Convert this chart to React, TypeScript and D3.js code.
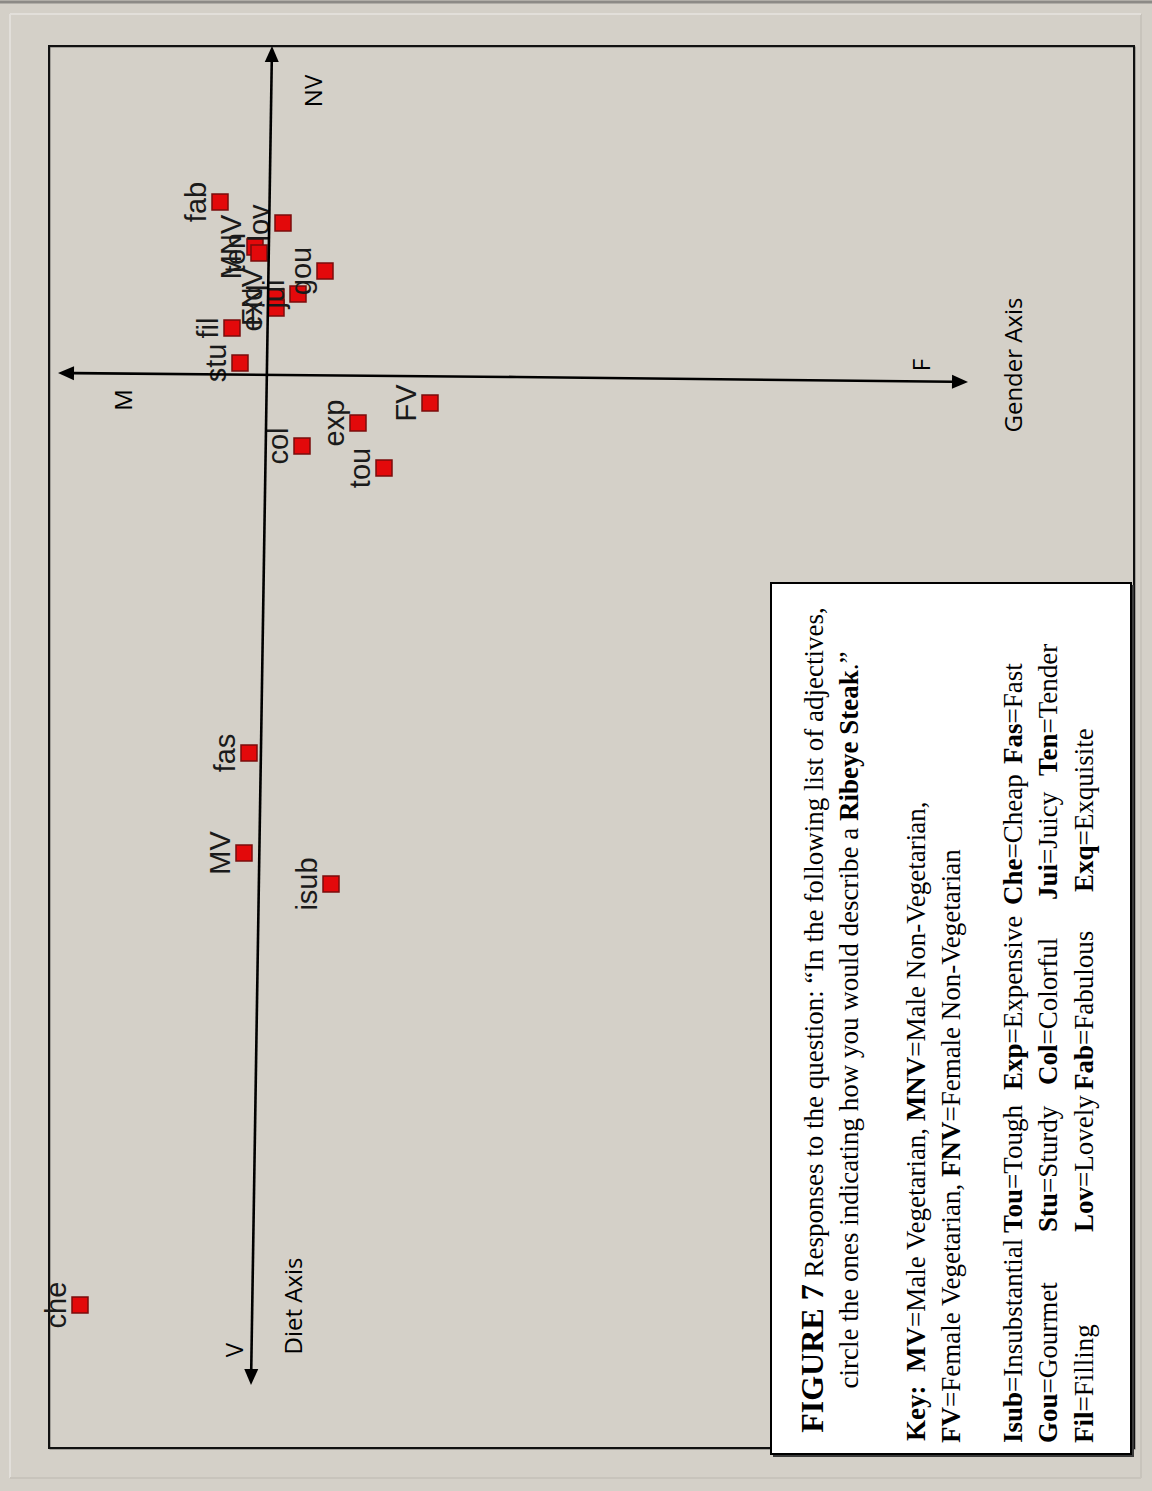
import React from 'react';
import * as d3 from 'd3';

// ---- data (Dim 1 = Diet axis: + NV / - V ; Dim 2 = Gender axis: - M / + F) ----
const pointNames = ['fab', 'lov', 'MNV', 'ten', 'gou', 'jui', 'FNV', 'exq', 'fil', 'stu', 'col', 'exp', 'tou', 'FV', 'fas', 'MV', 'isub', 'che'];
const dietScores = [1.73, 1.52, 1.28, 1.22, 1.04, 0.81, 0.78, 0.67, 0.47, 0.12, -0.71, -0.48, -0.93, -0.28, -3.78, -4.78, -5.09, -9.30];
const genderScores = [-0.47, 0.16, -0.12, -0.08, 0.58, 0.31, 0.09, 0.09, -0.35, -0.27, 0.35, 0.91, 1.17, 1.63, -0.18, -0.23, 0.64, -1.87];

const dietDomain = [-10.73, 3.29];
const genderDomain = [-2.18, 8.67];

// annotation arrows (from -> to), in data units [diet, gender]
const dietArrowNV = [[-5.0, -0.08], [3.29, 0.05]];
const dietArrowV = [[-5.0, -0.08], [-10.1, -0.16]];
const genderArrowM = [[-0.02, 2.5], [0.02, -2.09]];
const genderArrowF = [[-0.02, 2.5], [-0.07, 7.01]];

const axisLabels = [
  { text: 'NV', diet: 2.84, gender: 0.55 },
  { text: 'V', diet: -9.75, gender: -0.24 },
  { text: 'Diet Axis', diet: -9.31, gender: 0.35 },
  { text: 'M', diet: -0.25, gender: -1.35 },
  { text: 'F', diet: 0.10, gender: 6.63 },
  { text: 'Gender Axis', diet: 0.10, gender: 7.55 },
];

const titleBold = 'FIGURE 7';
const titleRest = ' Responses to the question: \u201CIn the following list of adjectives,';
const title2a = 'circle the ones indicating how you would describe a ';
const title2b = 'Ribeye Steak';
const title2c = '.\u201D';
const keyLine1: [string, boolean][] = [['Key:', true], ['  ', false], ['MV', true], ['=Male Vegetarian, ', false], ['MNV', true], ['=Male Non-Vegetarian,', false]];
const keyLine2: [string, boolean][] = [['FV', true], ['=Female Vegetarian, ', false], ['FNV', true], ['=Female Non-Vegetarian', false]];
const abbrRows: [string, string][][] = [
  [['Isub', 'Insubstantial'], ['Tou', 'Tough'], ['Exp', 'Expensive'], ['Che', 'Cheap'], ['Fas', 'Fast']],
  [['Gou', 'Gourmet'], ['Stu', 'Sturdy'], ['Col', 'Colorful'], ['Jui', 'Juicy'], ['Ten', 'Tender']],
  [['Fil', 'Filling'], ['Lov', 'Lovely'], ['Fab', 'Fabulous'], ['Exq', 'Exquisite']],
];

export default function App() {
  const W = 1152, H = 1491;
  const frame = { x0: 49, y0: 46, x1: 1134, y1: 1448 };
  // diet axis runs up the page, gender axis runs across
  const py = d3.scaleLinear().domain(dietDomain).range([frame.y1, frame.y0]);
  const px = d3.scaleLinear().domain(genderDomain).range([frame.x0, frame.x1]);

  const arrow = (seg: number[][], key: string) => {
    const [a, b] = seg;
    const x1 = px(a[1]), y1 = py(a[0]), x2 = px(b[1]), y2 = py(b[0]);
    const ang = Math.atan2(y2 - y1, x2 - x1);
    const L = 16, hw = 7;
    const bx = x2 - L * Math.cos(ang), by = y2 - L * Math.sin(ang);
    const nx = -Math.sin(ang), ny = Math.cos(ang);
    const pts = [[x2, y2], [bx + hw * nx, by + hw * ny], [bx - hw * nx, by - hw * ny]];
    return (
      <g key={key}>
        <line x1={x1} y1={y1} x2={bx} y2={by} stroke="#000" strokeWidth={2.6} />
        <polygon points={pts.map(p => p.join(',')).join(' ')} fill="#000" />
      </g>
    );
  };

  const rot = (x: number, y: number) => `translate(${x},${y}) rotate(-90)`;
  const serif = '"Liberation Serif", "Times New Roman", serif';
  const lf = 27;
  const colStarts = [
    [1443, 1233, 1090, 905, 764],
    [1443, 1232, 1085, 900, 776],
    [1443, 1232, 1090, 892],
  ];
  const rowBase = [1022, 1057, 1093];

  return (
    <svg width={W} height={H} style={{ position: 'absolute', left: 0, top: 0 }} xmlns="http://www.w3.org/2000/svg">
      <rect x={0} y={0} width={W} height={H} fill="#d4d0c8" />
      <line x1={0} y1={2} x2={W} y2={2} stroke="#8c8a86" strokeWidth={3} />
      <line x1={10} y1={14} x2={10} y2={1478} stroke="#e2dfda" strokeWidth={2} />
      <line x1={1141} y1={14} x2={1141} y2={1478} stroke="#c8c4bc" strokeWidth={2} />
      <line x1={10} y1={14} x2={1141} y2={14} stroke="#e2dfda" strokeWidth={2} />
      <line x1={10} y1={1478} x2={1141} y2={1478} stroke="#c8c4bc" strokeWidth={2} />

      {/* plot frame */}
      <rect x={frame.x0 + 1} y={frame.y0 + 1} width={frame.x1 - frame.x0} height={frame.y1 - frame.y0} fill="none" stroke="#6e6c68" strokeWidth={1} />
      <rect x={frame.x0} y={frame.y0} width={frame.x1 - frame.x0} height={frame.y1 - frame.y0} fill="none" stroke="#111" strokeWidth={2} />

      {/* points */}
      {pointNames.map((n, i) => {
        const x = px(genderScores[i]), y = py(dietScores[i]);
        return (
          <rect key={n} x={x - 8} y={y - 8} width={16} height={16} fill="#e3090b" stroke="#7a0c0c" strokeWidth={1.5} />
        );
      })}
      {pointNames.map((n, i) => {
        const x = px(genderScores[i]), y = py(dietScores[i]);
        return (
          <text key={'l' + n} transform={rot(x - 14, y)} textAnchor="middle" fontFamily='"Liberation Sans", Arial, sans-serif' fontSize={29} fill="#1a1a1a">{n}</text>
        );
      })}

      {/* axis arrows */}
      {arrow(dietArrowNV, 'nv')}
      {arrow(dietArrowV, 'v')}
      {arrow(genderArrowM, 'm')}
      {arrow(genderArrowF, 'f')}
      {axisLabels.map(l => (
        <text key={l.text} transform={rot(px(l.gender), py(l.diet))} textAnchor="middle" fontFamily='"Open Sans", sans-serif' fontSize={24} fill="#000">{l.text}</text>
      ))}

      {/* legend box */}
      <rect x={773} y={585} width={361} height={872} fill="#3a3a3a" />
      <rect x={771} y={583} width={360} height={871} fill="#fff" stroke="#000" strokeWidth={2} />
      <g fontFamily={serif} fill="#000">
        <text transform={rot(823, 1020)} textAnchor="middle" fontSize={lf} style={{ whiteSpace: 'pre' }}>
          <tspan fontWeight="bold" fontSize={32}>{titleBold}</tspan>
          <tspan>{titleRest}</tspan>
        </text>
        <text transform={rot(858, 1020)} textAnchor="middle" fontSize={lf} style={{ whiteSpace: 'pre' }}>
          <tspan>{title2a}</tspan>
          <tspan fontWeight="bold">{title2b}</tspan>
          <tspan>{title2c}</tspan>
        </text>
        <text transform={rot(925, 1441)} fontSize={lf} style={{ whiteSpace: 'pre' }}>
          {keyLine1.map(([t, b], i) => <tspan key={i} fontWeight={b ? 'bold' : 'normal'}>{t}</tspan>)}
        </text>
        <text transform={rot(960, 1443)} fontSize={lf} style={{ whiteSpace: 'pre' }}>
          {keyLine2.map(([t, b], i) => <tspan key={i} fontWeight={b ? 'bold' : 'normal'}>{t}</tspan>)}
        </text>
        {abbrRows.map((row, r) =>
          row.map(([a, w], c) => (
            <text key={r + '-' + c} transform={rot(rowBase[r], colStarts[r][c])} fontSize={lf}>
              <tspan fontWeight="bold">{a}</tspan>
              <tspan>{'=' + w}</tspan>
            </text>
          ))
        )}
      </g>
    </svg>
  );
}
